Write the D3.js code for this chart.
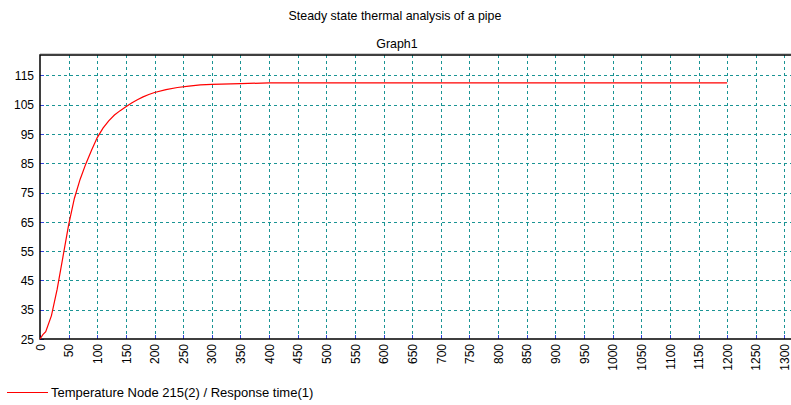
<!DOCTYPE html>
<html>
<head>
<meta charset="utf-8">
<script src="https://cdn.jsdelivr.net/npm/d3@7"></script>
<style>
  body { margin: 0; background: #fff; }
  svg { display: block; font-family: "Liberation Sans", Arial, sans-serif; }
  .grid line { stroke: #1a9494; stroke-dasharray: 3,3; }
  .axis text { font-size: 12px; fill: #000; }
</style>
</head>
<body>
<div id="chart-area"></div>
<script>
// Response time (s)
const times = [0, 5, 10, 20, 30, 40, 50, 60, 70, 80, 90, 100, 110, 120, 130, 140,
  150, 160, 170, 180, 190, 200, 220, 240, 260, 280, 300, 350, 400, 450, 500,
  600, 700, 800, 900, 1000, 1100, 1200];
// Temperature Node 215
const temps = [25, 26.5, 27.5, 33, 42, 53, 64, 73, 79.5, 84.8, 89.5, 93.8, 97, 99.5,
  101.5, 103, 104.3, 105.6, 106.7, 107.7, 108.5, 109.2, 110.2, 110.9, 111.4,
  111.8, 112.0, 112.2, 112.5, 112.5, 112.5, 112.5, 112.5, 112.5, 112.5, 112.5,
  112.5, 112.5];
const xTicks = d3.range(0, 1301, 50);
const yTicks = d3.range(25, 116, 10);

const title = "Steady state thermal analysis of a pipe";
const subtitle = "Graph1";
const seriesName = "Temperature Node 215(2) / Response time(1)";

const width = 791, height = 405;
const plot = { left: 40, top: 55, right: 791, bottom: 339 };

const svg = d3
  .select("#chart-area")
  .append("svg")
  .attr("width", width)
  .attr("height", height);

const xScale = d3.scaleLinear().domain([0, 1311.5]).range([plot.left, plot.right]);
const yScale = d3.scaleLinear().domain([25, 122]).range([plot.bottom, plot.top]);

// titles
svg.append("text")
  .attr("x", 395).attr("y", 20)
  .attr("text-anchor", "middle")
  .attr("font-size", "12.4px")
  .text(title);
svg.append("text")
  .attr("x", 397).attr("y", 48)
  .attr("text-anchor", "middle")
  .attr("font-size", "12.4px")
  .text(subtitle);

// grid
const grid = svg.append("g").attr("class", "grid");
grid.selectAll(".vx")
  .data(xTicks.filter(d => d > 0))
  .enter().append("line")
  .attr("x1", d => Math.round(xScale(d)) + 0.5)
  .attr("x2", d => Math.round(xScale(d)) + 0.5)
  .attr("y1", plot.top)
  .attr("y2", plot.bottom);
grid.selectAll(".hy")
  .data(yTicks.filter(d => d > 25))
  .enter().append("line")
  .attr("x1", plot.left)
  .attr("x2", plot.right)
  .attr("y1", d => Math.round(yScale(d)) + 0.5)
  .attr("y2", d => Math.round(yScale(d)) + 0.5);

// little blue ticks inside the frame
const ticks = svg.append("g").attr("stroke", "#3344dd");
ticks.selectAll(".tx")
  .data(xTicks)
  .enter().append("line")
  .attr("x1", d => Math.round(xScale(d)) + 0.5)
  .attr("x2", d => Math.round(xScale(d)) + 0.5)
  .attr("y1", plot.bottom - 4)
  .attr("y2", plot.bottom);
ticks.selectAll(".ty")
  .data(yTicks)
  .enter().append("line")
  .attr("x1", plot.left)
  .attr("x2", plot.left + 4)
  .attr("y1", d => Math.round(yScale(d)) + 0.5)
  .attr("y2", d => Math.round(yScale(d)) + 0.5);

// axes
const yAxis = d3.axisLeft(yScale).tickValues(yTicks).tickFormat(d3.format("d"))
  .tickSize(0).tickPadding(6);
svg.append("g")
  .attr("class", "axis")
  .attr("transform", `translate(${plot.left},0)`)
  .call(yAxis)
  .call(g => g.select(".domain").remove())
  .selectAll("text").attr("dy", "0.35em");

const xAxis = d3.axisBottom(xScale).tickValues(xTicks).tickFormat(d3.format("d"))
  .tickSize(0);
svg.append("g")
  .attr("class", "axis")
  .attr("transform", `translate(0,${plot.bottom})`)
  .call(xAxis)
  .call(g => g.select(".domain").remove())
  .selectAll("text")
  .attr("transform", "rotate(-90)")
  .attr("text-anchor", "end")
  .attr("x", -5)
  .attr("y", 0)
  .attr("dy", "0.35em");

// frame: top, left, bottom
svg.append("path")
  .attr("fill", "none")
  .attr("stroke", "#ccc")
  .attr("d", `M${plot.left},${plot.top - 1.5}H${plot.right}`);
svg.append("path")
  .attr("fill", "none")
  .attr("stroke", "#000")
  .attr("stroke-width", 1.5)
  .attr("d", `M${plot.right},${plot.top}H${plot.left}V${plot.bottom}H${plot.right}`);

// series
const data = times.map((t, i) => ({ t: t, v: temps[i] }));
const line = d3.line().x(d => xScale(d.t)).y(d => yScale(d.v));
svg.append("path")
  .datum(data)
  .attr("fill", "none")
  .attr("stroke", "#ff0000")
  .attr("stroke-width", 1.2)
  .attr("d", line);

// legend
svg.append("line")
  .attr("x1", 7).attr("x2", 48)
  .attr("y1", 392.5).attr("y2", 392.5)
  .attr("stroke", "#ff0000");
svg.append("text")
  .attr("x", 51).attr("y", 397)
  .attr("font-size", "13px")
  .text(seriesName);
</script>
</body>
</html>
